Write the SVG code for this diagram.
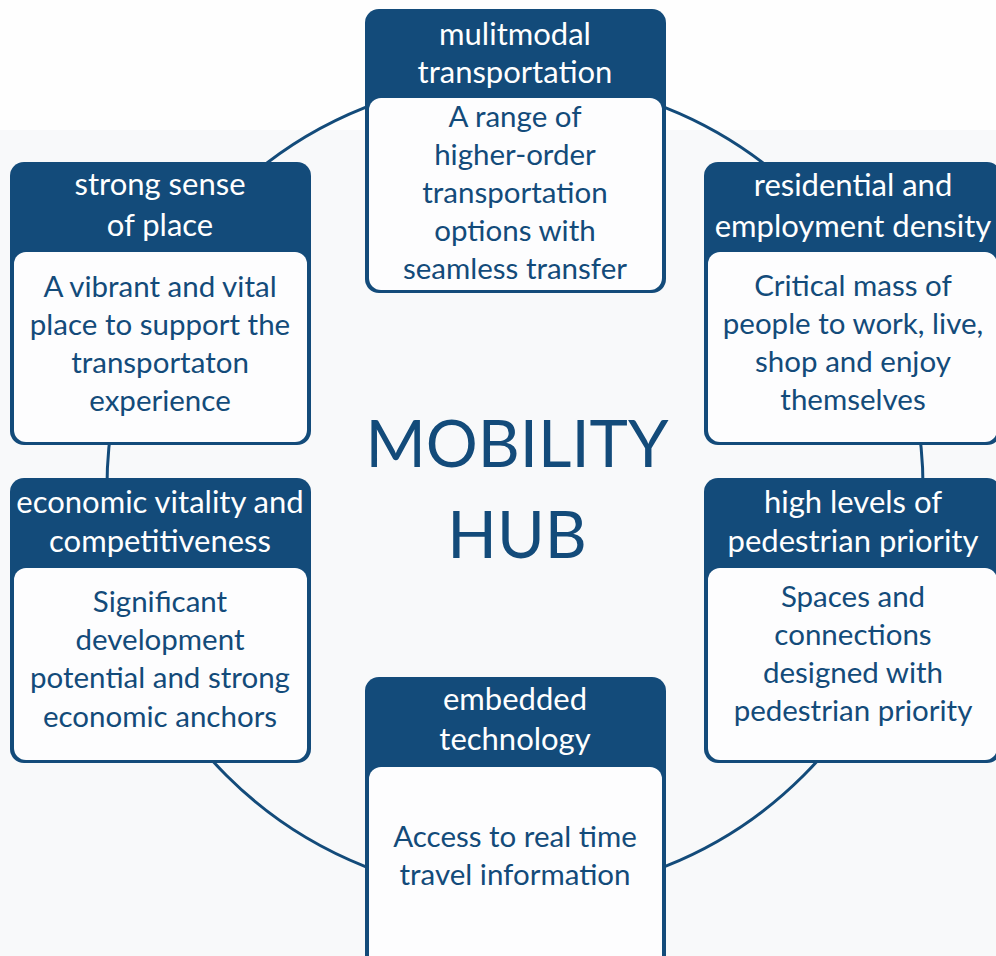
<svg xmlns="http://www.w3.org/2000/svg" width="996" height="956" viewBox="0 0 996 956">
<style>
.outer{fill:#134b7a}
.inner{fill:#fdfdfe}
.hd{font-family:Lato,"Liberation Sans",sans-serif;font-size:31px;fill:#ffffff;text-anchor:middle}
.bd{font-family:Lato,"Liberation Sans",sans-serif;font-size:29.5px;fill:#134b7a;text-anchor:middle}
.big{font-family:Lato,"Liberation Sans",sans-serif;font-size:65px;fill:#134b7a;text-anchor:middle}
.ring{fill:none;stroke:#134b7a;stroke-width:3}
</style>
<rect x="0" y="0" width="996" height="956" fill="#fefefe"/>
<rect x="0" y="130" width="996" height="826" fill="#f8f9fa"/>
<g id="connectors">
<circle class="ring" cx="515" cy="487" r="408"/>
</g>
<g id="center">
<text class="big" x="517" y="467">MOBILITY</text>
<text class="big" x="517" y="558">HUB</text>
</g>
<g id="node-multimodal">
<rect class="outer" x="365" y="9" width="301" height="284" rx="14"/>
<rect class="inner" x="369" y="98" width="293" height="192" rx="12"/>
<text class="hd" x="515" y="45">mulitmodal</text>
<text class="hd" x="515" y="83">transportation</text>
<text class="bd" x="515" y="127">A range of</text>
<text class="bd" x="515" y="165">higher-order</text>
<text class="bd" x="515" y="203">transportation</text>
<text class="bd" x="515" y="241">options with</text>
<text class="bd" x="515" y="279">seamless transfer</text>
</g>
<g id="node-place">
<rect class="outer" x="10" y="162" width="301" height="283" rx="14"/>
<rect class="inner" x="14" y="252" width="293" height="190" rx="12"/>
<text class="hd" x="160" y="195">strong sense</text>
<text class="hd" x="160" y="236">of place</text>
<text class="bd" x="160" y="297">A vibrant and vital</text>
<text class="bd" x="160" y="335">place to support the</text>
<text class="bd" x="160" y="373">transportaton</text>
<text class="bd" x="160" y="411">experience</text>
</g>
<g id="node-density">
<rect class="outer" x="704" y="162" width="297" height="283" rx="14"/>
<rect class="inner" x="708" y="252" width="289" height="190" rx="12"/>
<text class="hd" x="853" y="196">residential and</text>
<text class="hd" x="853" y="237">employment density</text>
<text class="bd" x="853" y="296">Critical mass of</text>
<text class="bd" x="853" y="334">people to work, live,</text>
<text class="bd" x="853" y="372">shop and enjoy</text>
<text class="bd" x="853" y="410">themselves</text>
</g>
<g id="node-economic">
<rect class="outer" x="10" y="478" width="301" height="285" rx="14"/>
<rect class="inner" x="14" y="568" width="293" height="192" rx="12"/>
<text class="hd" x="160" y="513">economic vitality and</text>
<text class="hd" x="160" y="552">competitiveness</text>
<text class="bd" x="160" y="612">Significant</text>
<text class="bd" x="160" y="650">development</text>
<text class="bd" x="160" y="688">potential and strong</text>
<text class="bd" x="160" y="727">economic anchors</text>
</g>
<g id="node-pedestrian">
<rect class="outer" x="704" y="478" width="297" height="285" rx="14"/>
<rect class="inner" x="708" y="568" width="289" height="192" rx="12"/>
<text class="hd" x="853" y="513">high levels of</text>
<text class="hd" x="853" y="552">pedestrian priority</text>
<text class="bd" x="853" y="607">Spaces and</text>
<text class="bd" x="853" y="645">connections</text>
<text class="bd" x="853" y="683">designed with</text>
<text class="bd" x="853" y="721">pedestrian priority</text>
</g>
<g id="node-technology">
<rect class="outer" x="365" y="677" width="301" height="300" rx="14"/>
<rect class="inner" x="369" y="767" width="293" height="206" rx="12"/>
<text class="hd" x="515" y="710">embedded</text>
<text class="hd" x="515" y="750">technology</text>
<text class="bd" x="515" y="847">Access to real time</text>
<text class="bd" x="515" y="885">travel information</text>
</g>
</svg>
